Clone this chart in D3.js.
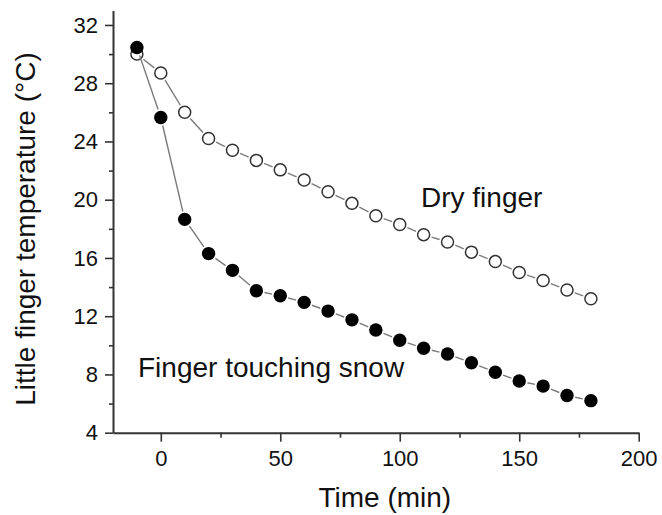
<!DOCTYPE html>
<html>
<head>
<meta charset="utf-8">
<script src="https://cdn.jsdelivr.net/npm/d3@7"></script>
<style>
  html, body { margin: 0; padding: 0; background: #fff; }
  text { font-family: "Liberation Sans", Arial, sans-serif; fill: #111; }
</style>
</head>
<body>
<svg id="chart" width="662" height="515"></svg>
<script>
const times = [-10, 0, 10, 20, 30, 40, 50, 60, 70, 80, 90, 100, 110, 120, 130, 140, 150, 160, 170, 180];
const dryFinger = [30.0, 28.7, 26.0, 24.2, 23.4, 22.7, 22.05, 21.35, 20.55, 19.75, 18.9, 18.3, 17.6, 17.1, 16.4, 15.75, 15.0, 14.45, 13.8, 13.2];
const snowFinger = [30.45, 25.65, 18.65, 16.3, 15.15, 13.75, 13.4, 12.95, 12.35, 11.75, 11.05, 10.35, 9.8, 9.4, 8.8, 8.15, 7.55, 7.2, 6.55, 6.2];
const xTicks = [0, 50, 100, 150, 200];
const xMinor = [25, 75, 125, 175];
const yTicks = [4, 8, 12, 16, 20, 24, 28, 32];
const yMinor = [6, 10, 14, 18, 22, 26, 30];
const xTitle = "Time (min)";
const yTitle = "Little finger temperature (°C)";
const labelDry = "Dry finger";
const labelSnow = "Finger touching snow";

const svg = d3.select("#chart");
const x = d3.scaleLinear().domain([-20, 200]).range([113, 638.7]);
const y = d3.scaleLinear().domain([4, 33]).range([432.7, 10.4]);
const axisColor = "#333";

// series
function drawSeries(vals, filled) {
  const pts = times.map((t, i) => [x(t), y(vals[i])]);
  const r = 6.5, gap = r + 1.8;
  const g = svg.append("g");
  for (let i = 0; i < pts.length - 1; i++) {
    const [x1, y1] = pts[i], [x2, y2] = pts[i + 1];
    const dx = x2 - x1, dy = y2 - y1, L = Math.hypot(dx, dy);
    if (L <= 2 * gap) continue;
    const ux = dx / L, uy = dy / L;
    g.append("line")
      .attr("x1", x1 + ux * gap).attr("y1", y1 + uy * gap)
      .attr("x2", x2 - ux * gap).attr("y2", y2 - uy * gap)
      .attr("stroke", "#7a7a7a").attr("stroke-width", 1.4);
  }
  g.selectAll("circle").data(pts).join("circle")
    .attr("cx", d => d[0]).attr("cy", d => d[1])
    .attr("r", filled ? 6.7 : 6.0)
    .attr("fill", filled ? "#000" : "#fff")
    .attr("stroke", filled ? "#000" : "#333")
    .attr("stroke-width", filled ? 0 : 1.5);
}
drawSeries(dryFinger, false);
drawSeries(snowFinger, true);

// axes
const xAxis = svg.append("g").attr("transform", `translate(0,${y(4)})`)
  .call(d3.axisBottom(x).tickValues(xTicks).tickSize(9).tickSizeOuter(0).tickPadding(9).tickFormat(d3.format("d")));
const yAxis = svg.append("g").attr("transform", `translate(${x(-20)},0)`)
  .call(d3.axisLeft(y).tickValues(yTicks).tickSize(8).tickSizeOuter(0).tickPadding(7).tickFormat(d3.format("d")));
svg.append("g").attr("transform", `translate(0,${y(4)})`)
  .call(d3.axisBottom(x).tickValues(xMinor).tickSize(5).tickSizeOuter(0).tickFormat(""))
  .select(".domain").remove();
svg.append("g").attr("transform", `translate(${x(-20)},0)`)
  .call(d3.axisLeft(y).tickValues(yMinor).tickSize(4).tickSizeOuter(0).tickFormat(""))
  .select(".domain").remove();

svg.selectAll(".domain").attr("stroke", axisColor).attr("stroke-width", 2);
svg.selectAll(".tick line").attr("stroke", axisColor).attr("stroke-width", 1.6);
svg.selectAll(".tick text").style("font-family", "'Liberation Sans', Arial, sans-serif")
  .style("font-size", "22px").attr("fill", "#111");

// titles
svg.append("text").attr("x", (x(-20) + x(200)) / 2 + 9).attr("y", 507)
  .attr("text-anchor", "middle").style("font-size", "28px").text(xTitle);
svg.append("text").attr("transform", `translate(35,229) rotate(-90)`)
  .attr("text-anchor", "middle").style("font-size", "28px").text(yTitle);

// labels
svg.append("text").attr("x", 421).attr("y", 207).style("font-size", "28px").text(labelDry);
svg.append("text").attr("x", 138).attr("y", 377).style("font-size", "28px").text(labelSnow);
</script>
</body>
</html>
